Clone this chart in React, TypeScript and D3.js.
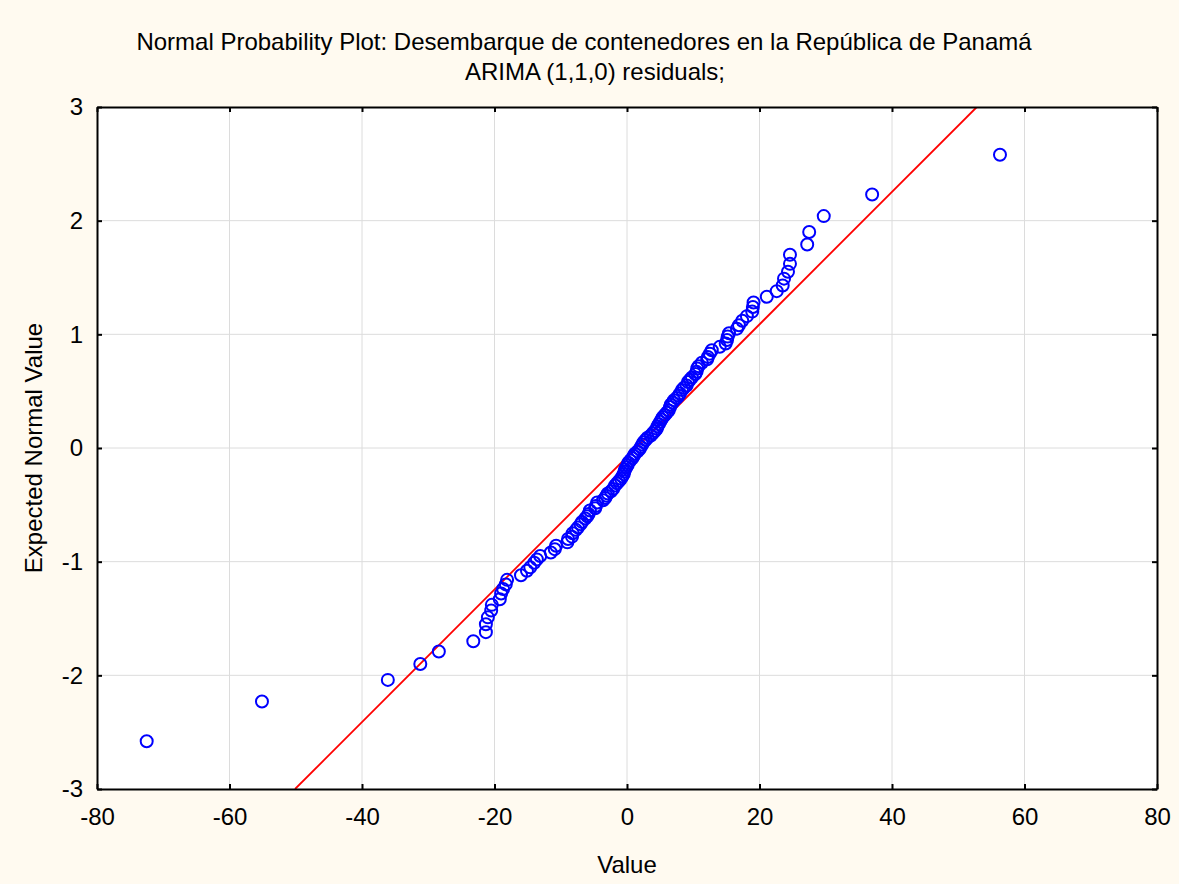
import React, { useEffect, useRef } from "react";
import * as d3 from "d3";

// residuals (sorted)
const residuals = [
  -72.5, -55.1, -36.1, -31.2, -28.4, -23.2, -21.3, -21.3, -21.0, -20.5,
  -20.4, -19.2, -19.0, -18.7, -18.3, -18.1, -16.0, -15.1, -14.6, -14.0,
  -13.6, -13.1, -11.5, -10.9, -10.7, -9.0, -8.9, -8.3, -8.2, -7.7,
  -7.4, -7.0, -6.8, -6.3, -6.0, -5.8, -5.6, -4.8, -4.7, -4.5,
  -3.6, -3.3, -3.1, -2.9, -2.4, -2.1, -1.8, -1.5, -1.2, -0.9,
  -0.7, -0.5, -0.4, -0.3, -0.1, 0.1, 0.2, 0.5, 0.8, 1.0,
  1.2, 1.6, 1.9, 2.1, 2.3, 2.5, 2.8, 3.1, 3.6, 3.9,
  4.2, 4.5, 4.6, 4.8, 5.0, 5.2, 5.4, 5.7, 6.0, 6.3,
  6.5, 6.6, 6.9, 7.1, 7.5, 7.8, 8.0, 8.3, 8.6, 9.0,
  9.2, 9.5, 9.8, 10.3, 10.5, 10.6, 10.8, 11.3, 12.1, 12.2,
  12.5, 12.8, 14.0, 14.9, 15.1, 15.2, 15.4, 16.6, 16.9, 17.4,
  18.1, 18.9, 19.0, 19.1, 21.1, 22.6, 23.5, 23.7, 24.3, 24.6,
  24.6, 27.2, 27.5, 29.7, 37.0, 56.3,
];

// expected normal values for each rank
const expectedNormal = [
  -2.58, -2.23, -2.04, -1.9, -1.79, -1.7, -1.62, -1.55, -1.49, -1.43,
  -1.38, -1.33, -1.28, -1.24, -1.2, -1.16, -1.12, -1.08, -1.05, -1.01,
  -0.98, -0.95, -0.92, -0.89, -0.86, -0.83, -0.8, -0.78, -0.75, -0.72,
  -0.7, -0.67, -0.65, -0.62, -0.6, -0.58, -0.55, -0.53, -0.51, -0.48,
  -0.46, -0.44, -0.42, -0.4, -0.38, -0.36, -0.33, -0.31, -0.29, -0.27,
  -0.25, -0.23, -0.21, -0.19, -0.17, -0.15, -0.13, -0.11, -0.09, -0.07,
  -0.05, -0.03, -0.01, 0.01, 0.03, 0.05, 0.07, 0.09, 0.11, 0.13,
  0.15, 0.17, 0.19, 0.21, 0.23, 0.25, 0.27, 0.29, 0.31, 0.33,
  0.36, 0.38, 0.4, 0.42, 0.44, 0.46, 0.48, 0.51, 0.53, 0.55,
  0.58, 0.6, 0.62, 0.65, 0.67, 0.7, 0.72, 0.75, 0.78, 0.8,
  0.83, 0.86, 0.89, 0.92, 0.95, 0.98, 1.01, 1.05, 1.08, 1.12,
  1.16, 1.2, 1.24, 1.28, 1.33, 1.38, 1.43, 1.49, 1.55, 1.62,
  1.7, 1.79, 1.9, 2.04, 2.23, 2.58,
];

// reference line endpoints (value, expected normal)
const refLineX = [-50.1, 52.8];
const refLineY = [-3, 3];

const xTicks = [-80, -60, -40, -20, 0, 20, 40, 60, 80];
const yTicks = [-3, -2, -1, 0, 1, 2, 3];

const titleLines = [
  "Normal Probability Plot: Desembarque de contenedores en la República de Panamá",
  "ARIMA (1,1,0) residuals;",
];

const App = () => {
  const ref = useRef(null);

  useEffect(() => {
    document.body.style.margin = "0";
    const svg = d3.select(ref.current);
    svg.selectAll("*").remove();

    const widthValue = 1179;
    const heightValue = 884;
    const margin = { top: 107, left: 97, bottom: 95, right: 22 };
    const width = widthValue - margin.left - margin.right;
    const height = heightValue - margin.top - margin.bottom;
    const font = "'Liberation Sans', Arial, sans-serif";
    const fs = 24;

    svg
      .append("rect")
      .attr("width", widthValue)
      .attr("height", heightValue)
      .attr("fill", "#fffaf0");

    const g = svg
      .append("g")
      .attr("transform", `translate(${margin.left},${margin.top})`);

    g.append("rect").attr("width", width).attr("height", height).attr("fill", "#fff");

    var x = d3.scaleLinear().domain([-80, 80]).range([0, width]);
    var y = d3.scaleLinear().domain([-3, 3]).range([height, 0]);

    // grid
    g.append("g")
      .selectAll("line")
      .data(xTicks.slice(1, -1))
      .join("line")
      .attr("x1", (d) => x(d))
      .attr("x2", (d) => x(d))
      .attr("y1", 0)
      .attr("y2", height)
      .attr("stroke", "#dcdcdc")
      .attr("stroke-width", 1);
    g.append("g")
      .selectAll("line")
      .data(yTicks.slice(1, -1))
      .join("line")
      .attr("y1", (d) => y(d))
      .attr("y2", (d) => y(d))
      .attr("x1", 0)
      .attr("x2", width)
      .attr("stroke", "#dcdcdc")
      .attr("stroke-width", 1);

    g.append("clipPath")
      .attr("id", "plotclip")
      .append("rect")
      .attr("width", width)
      .attr("height", height);

    // reference line
    g.append("line")
      .attr("clip-path", "url(#plotclip)")
      .attr("x1", x(refLineX[0]))
      .attr("y1", y(refLineY[0]))
      .attr("x2", x(refLineX[1]))
      .attr("y2", y(refLineY[1]))
      .attr("stroke", "#ff0000")
      .attr("stroke-width", 1.8);

    // points
    g.append("g")
      .selectAll("circle")
      .data(residuals)
      .join("circle")
      .attr("cx", (d) => x(d))
      .attr("cy", (d, i) => y(expectedNormal[i]))
      .attr("r", 6)
      .attr("fill", "none")
      .attr("stroke", "#0000ff")
      .attr("stroke-width", 2);

    // axes, ticks inward on all four sides
    const tk = 5;
    const fmt = (d) => String(d);
    g.append("g")
      .attr("transform", `translate(0,${height})`)
      .call(d3.axisBottom(x).tickValues(xTicks).tickSizeInner(-tk).tickSizeOuter(0).tickPadding(19).tickFormat(fmt));
    g.append("g")
      .call(d3.axisTop(x).tickValues(xTicks).tickSizeInner(-tk).tickSizeOuter(0).tickFormat(() => ""));
    g.append("g")
      .call(d3.axisLeft(y).tickValues(yTicks).tickSizeInner(-tk).tickSizeOuter(0).tickPadding(14).tickFormat(fmt));
    g.append("g")
      .attr("transform", `translate(${width},0)`)
      .call(d3.axisRight(y).tickValues(yTicks).tickSizeInner(-tk).tickSizeOuter(0).tickFormat(() => ""));

    g.selectAll(".domain").attr("stroke", "#000").attr("stroke-width", 2);
    g.selectAll(".tick line").attr("stroke", "#000").attr("stroke-width", 2);
    g.selectAll(".tick text")
      .attr("font-family", font)
      .attr("font-size", fs)
      .attr("fill", "#000");

    svg
      .append("g")
      .selectAll("text")
      .data(titleLines)
      .join("text")
      .attr("x", (d, i) => (i === 0 ? 584 : 595))
      .attr("y", (d, i) => 50 + i * 30)
      .attr("text-anchor", "middle")
      .attr("font-family", font)
      .attr("font-size", fs)
      .text((d) => d);

    svg
      .append("text")
      .attr("x", margin.left + width / 2)
      .attr("y", 873)
      .attr("text-anchor", "middle")
      .attr("font-family", font)
      .attr("font-size", fs)
      .text("Value");

    svg
      .append("text")
      .attr("transform", `translate(42,${margin.top + height / 2}) rotate(-90)`)
      .attr("text-anchor", "middle")
      .attr("font-family", font)
      .attr("font-size", fs)
      .text("Expected Normal Value");
  }, []);

  return (
    <div>
      <svg ref={ref} width={1179} height={884} style={{ display: "block" }} />
    </div>
  );
};

export default App;
